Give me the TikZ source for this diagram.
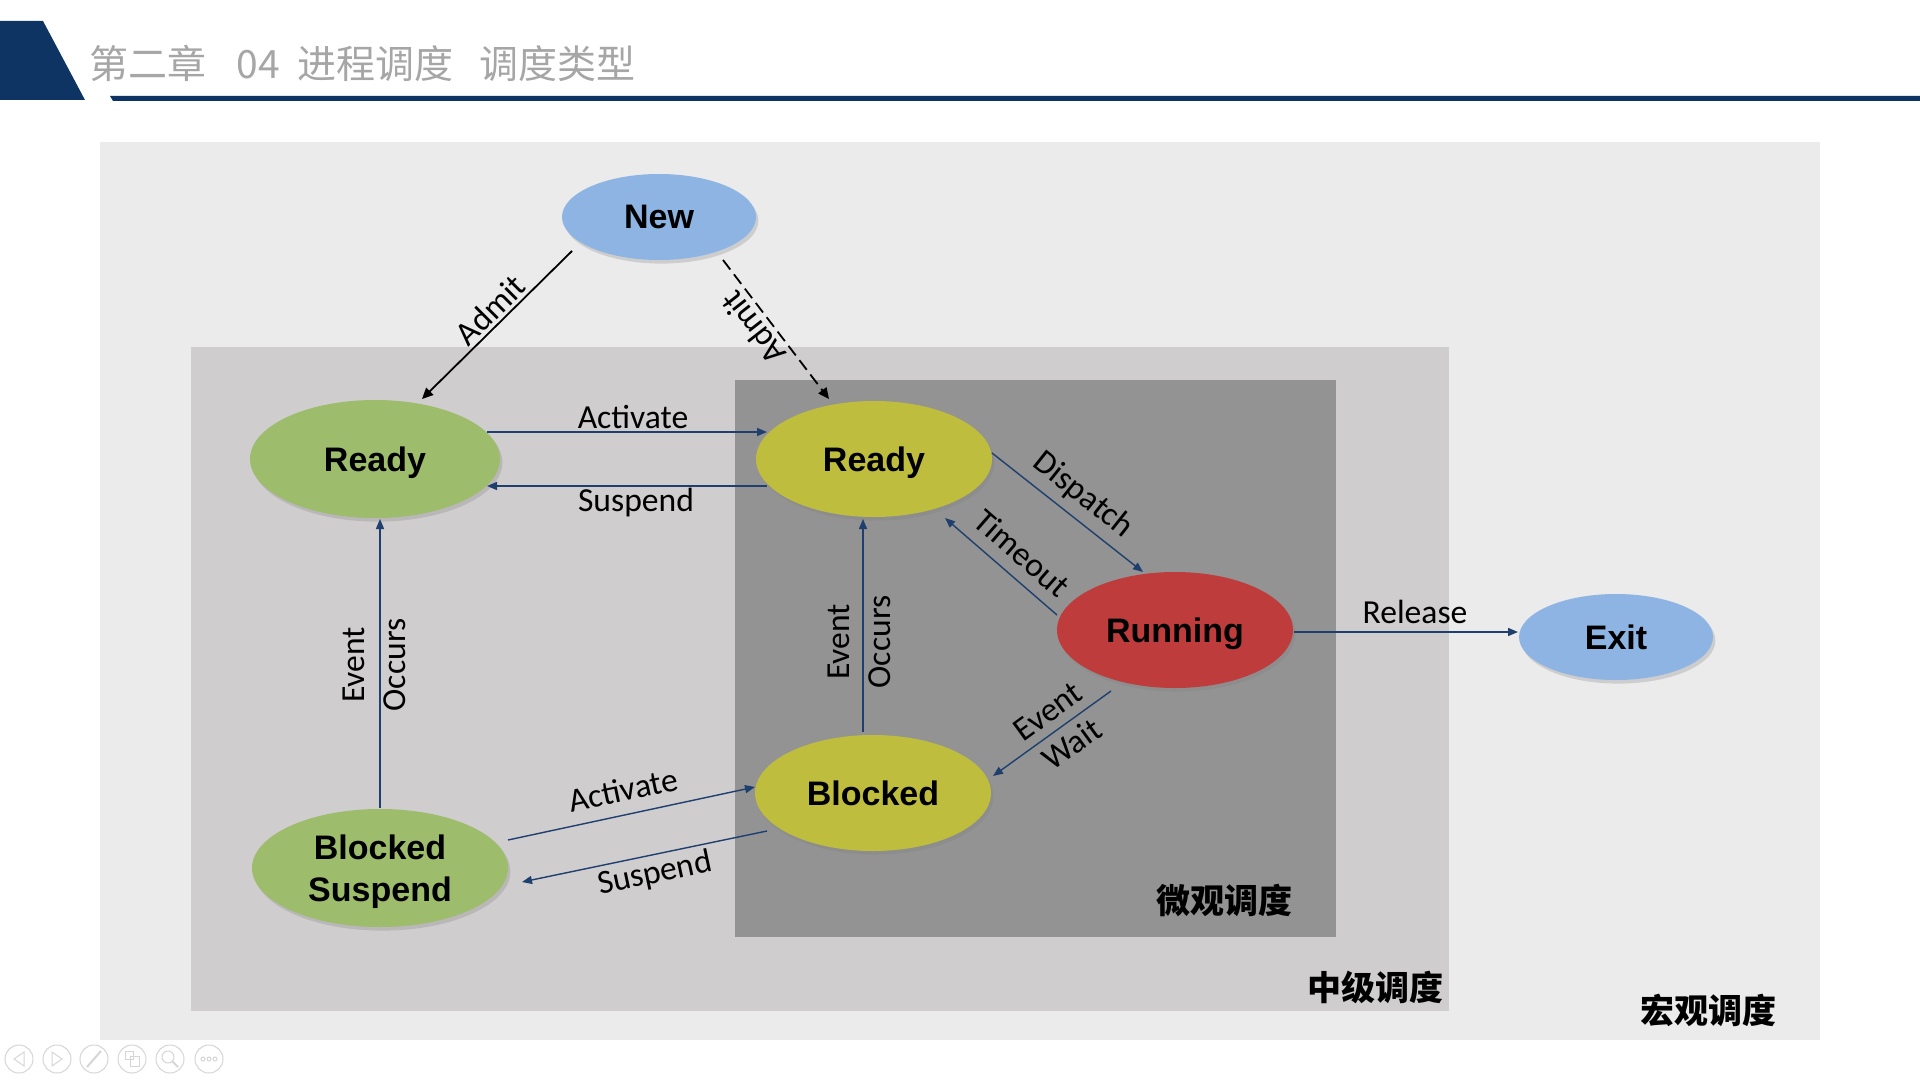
\documentclass[tikz,border=0pt]{standalone}
\usepackage{fontspec}
\setmainfont{Carlito}
\newfontfamily\statefont{Liberation Sans}
\newfontfamily\cjk{Noto Sans CJK SC}
\usetikzlibrary{shapes.geometric,arrows.meta,shadows,calc}

\definecolor{navy}{HTML}{0E3463}
\definecolor{titlegray}{HTML}{A6A6A6}
\definecolor{panelA}{HTML}{EBEBEB}
\definecolor{panelB}{HTML}{CFCDCE}
\definecolor{panelC}{HTML}{939393}
\definecolor{stblue}{HTML}{8DB4E2}
\definecolor{stgreen}{HTML}{9DBC6C}
\definecolor{stolive}{HTML}{BFBD3E}
\definecolor{stred}{HTML}{BE3C3C}
\definecolor{edgeblue}{HTML}{1F3F6E}
\definecolor{icongray}{HTML}{D6D6D6}

\tikzset{
  state/.style={ellipse, draw=none, inner sep=0pt, align=center, text depth=0pt,
    font=\statefont\bfseries\fontsize{17}{21}\selectfont,
    drop shadow={opacity=0.28, shadow xshift=1.2pt, shadow yshift=-1.8pt}},
  lbl/.style={inner sep=0pt, align=center, font=\fontsize{16.8}{20.5}\selectfont},
  tier/.style={inner sep=0pt, font=\cjk\bfseries\fontsize{17}{20}\selectfont},
  flow/.style={draw=edgeblue, line width=0.7pt, -{Triangle[length=5pt,width=4pt]}},
  admit/.style={draw=black, line width=0.9pt, -{Triangle[length=5.5pt,width=5pt]}},
  icon/.style={draw=icongray, line width=0.5pt},
}

\begin{document}
\begin{tikzpicture}[x=0.5pt, y=-0.5pt]
  \useasboundingbox (0,0) rectangle (1920,1080);
  \fill[white] (0,0) rectangle (1920,1080);

  % header band and title
  \fill[navy] (0,21) -- (43,21) -- (85,100) -- (0,100) -- cycle;
  \fill[navy] (110,96) -- (1920,96) -- (1920,101) -- (113,101) -- cycle;
  \node[anchor=base west, inner sep=0pt, text=titlegray,
        font=\cjk\fontsize{19.5}{24}\selectfont] (title) at (89,79)
    {第二章\hspace{15pt}04\hspace{9pt}进程调度\hspace{13pt}调度类型};

  % scheduling levels
  \fill[panelA] (100,142) rectangle (1820,1040);
  \fill[panelB] (191,347) rectangle (1449,1011);
  \fill[panelC] (735,380) rectangle (1336,937);
  \node[tier] (micro) at (1224,900) {微观调度};
  \node[tier] (mid) at (1375,987) {中级调度};
  \node[tier] (macro) at (1708,1010) {宏观调度};

  % states
  \node[state, fill=stblue, minimum width=97pt, minimum height=43pt] (new) at (659,217) {New};
  \node[state, fill=stblue, minimum width=97pt, minimum height=43pt] (exit) at (1616,637) {Exit};
  \node[state, fill=stgreen, minimum width=125pt, minimum height=59pt] (rdyL) at (375,459) {Ready};
  \node[state, fill=stolive, minimum width=118pt, minimum height=58pt] (rdyR) at (874,459) {Ready};
  \node[state, fill=stred, minimum width=118pt, minimum height=58pt] (run) at (1175,630) {Running};
  \node[state, fill=stolive, minimum width=118pt, minimum height=58pt] (blk) at (873,793) {Blocked};
  \node[state, fill=stgreen, minimum width=128pt, minimum height=59pt] (bsus) at (380,868) {Blocked\\Suspend};

  % admission
  \draw[admit] ($(new)+(-87,34)$) -- ($(rdyL)+(47,-60)$);
  \draw[admit, dashed, dash pattern=on 6pt off 3pt] ($(new)+(64,43)$) -- ($(rdyR)+(-45,-60)$);
  \node[lbl, rotate=45] (lAdmitL) at (490,310) {Admit};
  \node[lbl, rotate=128] (lAdmitR) at (753,328) {Admit};

  % medium-term transitions
  \draw[flow] ($(rdyL)+(112,-27)$) -- ($(rdyR)+(-107,-27)$);
  \draw[flow] ($(rdyR)+(-107,27)$) -- ($(rdyL)+(112,27)$);
  \node[lbl] (lAct1) at (633,417) {Activate};
  \node[lbl] (lSus1) at (636,503) {Suspend};

  \draw[flow] ($(bsus)+(128,-28)$) -- ($(blk)+(-118,-6)$);
  \draw[flow] ($(blk)+(-106,38)$) -- ($(bsus)+(142,14)$);
  \node[lbl, rotate=12] (lAct2) at (623,790) {Activate};
  \node[lbl, rotate=12] (lSus2) at (655,874) {Suspend};

  \draw[flow] ($(bsus)+(0,-60)$) -- ($(rdyL)+(5,60)$);
  \node[lbl, rotate=90] (lEvO1) at (374,665) {Event\\Occurs};

  % short-term transitions
  \draw[flow] ($(rdyR)+(118,-6)$) -- ($(run)+(-32,-58)$);
  \node[lbl, rotate=-38.5] (lDisp) at (1083,495) {Dispatch};
  \draw[flow] ($(run)+(-118,-15)$) -- ($(rdyR)+(71,59)$);
  \node[lbl, rotate=-41] (lTime) at (1022,553) {Timeout};
  \draw[flow] ($(run)+(-64,61)$) -- ($(blk)+(120,-17)$);
  \node[lbl, rotate=36] (lWait) at (1060,728) {Event\\Wait};
  \draw[flow] ($(blk)+(-10,-61)$) -- ($(rdyR)+(-11,60)$);
  \node[lbl, rotate=90] (lEvO2) at (859,642) {Event\\Occurs};

  % release
  \draw[flow] ($(run)+(119,2)$) -- ($(exit)+(-98,-5)$);
  \node[lbl] (lRel) at (1415,612) {Release};

  % slide controls
  \begin{scope}[yshift=-2.5pt]
  \foreach \cx/\nm in {19/ctlA,57/ctlB,94/ctlC,132/ctlD,170/ctlE,209/ctlF}
    \draw[icon] (\cx,1054) circle[radius=14] coordinate (\nm);
  \draw[icon] (24,1047) -- (14,1054) -- (24,1061) -- cycle;
  \draw[icon] (52,1047) -- (62,1054) -- (52,1061) -- cycle;
  \draw[icon, line width=1pt] (87,1062) -- (101,1046);
  \draw[icon] (125,1046) rectangle (133,1054);
  \draw[icon] (130,1051) rectangle (139,1061);
  \draw[icon] (168,1052) circle[radius=6];
  \draw[icon, line width=1pt] (172,1056) -- (178,1062);
  \foreach \dx in {-6,0,6} \draw[icon] (209+\dx,1054) circle[radius=2];
  \end{scope}
\end{tikzpicture}
\end{document}
